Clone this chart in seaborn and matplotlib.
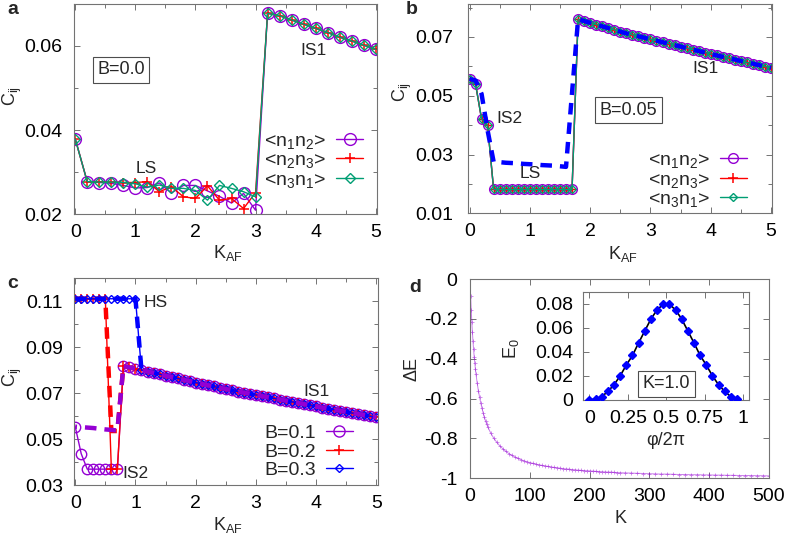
import numpy as np
import pandas as pd
import matplotlib
matplotlib.use('Agg')
import matplotlib.pyplot as plt
import seaborn as sns
from matplotlib.lines import Line2D
from matplotlib.ticker import MultipleLocator

sns.set_theme(style='white')
plt.rcParams['font.family'] = ['Liberation Sans', 'DejaVu Sans']
plt.rcParams['mathtext.fontset'] = 'custom'
plt.rcParams['mathtext.rm'] = 'Liberation Sans'
plt.rcParams['mathtext.it'] = 'Liberation Sans:italic'
plt.rcParams['mathtext.bf'] = 'Liberation Sans:bold'

PURPLE = '#9400d3'
RED = '#ff0000'
GREEN = '#009e73'
BLUE = '#0000ff'

# ---------------- panel a (B=0.0) ----------------
K_A = [0.0, 0.2, 0.4, 0.6, 0.8, 1.0, 1.2, 1.4, 1.6, 1.8, 2.0, 2.2, 2.4,
       2.6, 2.8, 3.0, 3.2, 3.4, 3.6, 3.8, 4.0, 4.2, 4.4, 4.6, 4.8, 5.0]
A_N1N2 = [0.0379, 0.0277, 0.0275, 0.0273, 0.0268, 0.0262, 0.0263, 0.0274, 0.0250,
          0.0268, 0.0268, 0.0255, 0.0242, 0.0226, 0.0249, 0.0209,
          0.0678, 0.0672, 0.0662, 0.0652, 0.0642, 0.0632, 0.0621, 0.0612, 0.0602, 0.0592]
A_N2N3 = [0.0379, 0.0277, 0.0277, 0.0276, 0.0275, 0.0275, 0.0277, 0.0253, 0.0265,
          0.0241, 0.0237, 0.0267, 0.0233, 0.0237, 0.0213, 0.0251,
          0.0678, 0.0672, 0.0662, 0.0652, 0.0642, 0.0632, 0.0621, 0.0612, 0.0602, 0.0592]
A_N3N1 = [0.0379, 0.0277, 0.0276, 0.0276, 0.0275, 0.0272, 0.0264, 0.0269, 0.0261,
          0.0261, 0.0256, 0.0233, 0.0268, 0.0261, 0.0253, 0.0241,
          0.0678, 0.0672, 0.0662, 0.0652, 0.0642, 0.0632, 0.0621, 0.0612, 0.0602, 0.0592]

# ---------------- panel b (B=0.05) ----------------
K_B = [round(0.1 * i, 1) for i in range(51)]
B_CORR = [0.0557, 0.0540, 0.0421, 0.0399,
          0.0181, 0.0181, 0.0181, 0.0181, 0.0181, 0.0181, 0.0181, 0.0181, 0.0181,
          0.0181, 0.0181, 0.0181, 0.0181, 0.0181,
          0.0760, 0.0754, 0.0748, 0.0742, 0.0736, 0.0730, 0.0724, 0.0718, 0.0712,
          0.0707, 0.0702, 0.0697, 0.0692, 0.0687, 0.0682, 0.0677, 0.0672, 0.0667,
          0.0662, 0.0657, 0.0652, 0.0647, 0.0642, 0.0637, 0.0632, 0.0628, 0.0623,
          0.0618, 0.0613, 0.0609, 0.0604, 0.0599, 0.0595]
B_DASH = [0.0557, 0.0552, 0.0506, 0.0382,
          0.0275, 0.0274, 0.0272, 0.0271, 0.0270, 0.0268, 0.0267, 0.0266, 0.0264,
          0.0263, 0.0262, 0.0260, 0.0258, 0.0510,
          0.0760, 0.0754, 0.0748, 0.0742, 0.0736, 0.0730, 0.0724, 0.0718, 0.0712,
          0.0707, 0.0702, 0.0697, 0.0692, 0.0687, 0.0682, 0.0677, 0.0672, 0.0667,
          0.0662, 0.0657, 0.0652, 0.0647, 0.0642, 0.0637, 0.0632, 0.0628, 0.0623,
          0.0618, 0.0613, 0.0609, 0.0604, 0.0599, 0.0595]

# ---------------- panel c (B=0.1,0.2,0.3) ----------------
K_C = [round(0.1 * i, 1) for i in range(51)]
IS1_TAIL = [0.0818, 0.0812, 0.0806, 0.0800, 0.0794, 0.0788, 0.0782, 0.0776, 0.0770,
            0.0764, 0.0758, 0.0752, 0.0746, 0.0740, 0.0734, 0.0729, 0.0723, 0.0718,
            0.0712, 0.0707, 0.0702, 0.0697, 0.0692, 0.0687, 0.0682, 0.0677, 0.0672,
            0.0667, 0.0662, 0.0657, 0.0652, 0.0647, 0.0642, 0.0637, 0.0632, 0.0628,
            0.0623, 0.0618, 0.0613, 0.0609, 0.0604, 0.0599, 0.0595]   # K = 0.8 ... 5.0
C_B01 = [0.0554, 0.0436, 0.0369, 0.0369, 0.0369, 0.0369, 0.0369, 0.0369] + IS1_TAIL
C_B01_DASH = [0.0554, 0.0552, 0.0550, 0.0548, 0.0545, 0.0542, 0.0540, 0.0537] + IS1_TAIL
C_B02 = [0.1111, 0.1111, 0.1111, 0.1111, 0.1111, 0.1111, 0.0369, 0.0369] + IS1_TAIL
C_B02_DASH = [0.1111, 0.1111, 0.1111, 0.1111, 0.1111, 0.1111, 0.0535, 0.0535] + IS1_TAIL
C_B03 = [0.1111, 0.1111, 0.1111, 0.1111, 0.1111, 0.1111, 0.1111, 0.1111,
         0.1111, 0.1111, 0.1111] + IS1_TAIL[3:]
C_B03_DASH = C_B03

# ---------------- panel d ----------------
K_D = [0, 1, 2, 3, 4, 5, 6, 7, 8, 9, 10, 12, 14, 16, 18, 20, 22, 24, 26, 28, 30,
       35, 40, 45, 50, 55, 60, 65, 70, 75, 80, 85, 90, 95, 100, 105, 110, 115, 120,
       125, 130, 135, 140, 145, 150, 155, 160, 165, 170, 175, 180, 185, 190, 195, 200,
       205, 210, 215, 220, 225, 230, 235, 240, 245, 250, 260, 270, 280, 290, 300, 310,
       320, 330, 340, 350, 360, 370, 380, 390, 400, 410, 420, 430, 440, 450, 460, 470,
       480, 490, 500]
DELTA_E = [0.0, -0.083, -0.154, -0.214, -0.267, -0.313, -0.353, -0.389, -0.421, -0.450,
           -0.476, -0.522, -0.560, -0.593, -0.622, -0.648, -0.672, -0.694, -0.712, -0.729,
           -0.744, -0.775, -0.800, -0.820, -0.838, -0.852, -0.865, -0.876, -0.885, -0.893,
           -0.900, -0.906, -0.912, -0.917, -0.921, -0.925, -0.929, -0.932, -0.935, -0.938,
           -0.940, -0.943, -0.945, -0.947, -0.949, -0.951, -0.953, -0.954, -0.956, -0.957,
           -0.959, -0.960, -0.961, -0.962, -0.963, -0.964, -0.965, -0.966, -0.967, -0.968,
           -0.969, -0.969, -0.970, -0.971, -0.972, -0.973, -0.974, -0.975, -0.976, -0.977,
           -0.978, -0.979, -0.979, -0.980, -0.981, -0.981, -0.982, -0.982, -0.983, -0.983,
           -0.984, -0.984, -0.985, -0.985, -0.986, -0.986, -0.986, -0.987, -0.987, -0.988]

PHI = [0.0, 0.04, 0.08, 0.12, 0.16, 0.20, 0.24, 0.28, 0.32, 0.36, 0.40, 0.44, 0.48,
       0.52, 0.56, 0.60, 0.64, 0.68, 0.72, 0.76, 0.80, 0.84, 0.88, 0.92, 0.96]
E0 = [0.0, 0.0008, 0.0028, 0.0071, 0.0127, 0.0201, 0.0291, 0.0370, 0.0475, 0.0574,
      0.0673, 0.0749, 0.0795, 0.0795, 0.0749, 0.0673, 0.0574, 0.0475, 0.0370, 0.0291,
      0.0201, 0.0127, 0.0071, 0.0028, 0.0008]

# ---------------- drawing ----------------
fig = plt.figure(figsize=(7.87, 5.38), dpi=100)
W, H = 787.0, 538.0
TICK = 14
LAB = 13
TXT = 12.5
LEG = 14


def add_axes_px(left, top, right, bottom):
    return fig.add_axes([left / W, 1 - bottom / H, (right - left) / W, (bottom - top) / H])


def style(ax, xmaj, xmin, ymaj, ymin, ypad=8.4, xpad=7):
    ax.xaxis.set_major_locator(MultipleLocator(xmaj))
    ax.yaxis.set_major_locator(MultipleLocator(ymaj))
    if xmin:
        ax.xaxis.set_minor_locator(MultipleLocator(xmin))
    if ymin:
        ax.yaxis.set_minor_locator(MultipleLocator(ymin))
    ax.tick_params(which='both', direction='in', top=True, right=True, bottom=True,
                   left=True, color='0.45', labelsize=TICK, labelcolor='black')
    ax.tick_params(which='major', length=4.5, width=0.7)
    ax.tick_params(which='minor', length=3, width=0.7)
    ax.tick_params(axis='y', which='major', pad=ypad)
    ax.tick_params(axis='x', which='major', pad=xpad)
    for s in ax.spines.values():
        s.set_color('0.45')
        s.set_linewidth(0.8)
    ax.grid(False)


def line(ax, x, y, color, marker=None, ms=7, lw=1.0, ls='-', mfc='none', mew=1.0,
         alpha=1.0, z=2):
    df = pd.DataFrame({'x': x, 'y': y})
    sns.lineplot(data=df, x='x', y='y', ax=ax, color=color, marker=marker,
                 markersize=ms, linewidth=lw, linestyle=ls, markerfacecolor=mfc,
                 markeredgecolor=color, markeredgewidth=mew, alpha=alpha,
                 estimator=None, sort=False, zorder=z)


def labels(ax, xl, yl, xc, yc):
    ax.set_xlabel(xl, fontsize=LAB)
    ax.set_ylabel(yl, fontsize=LAB)
    ax.xaxis.set_label_coords(*xc)
    ax.yaxis.set_label_coords(*yc)


KAF = r'K$_\mathrm{AF}$'
CIJ = r'C$_\mathrm{ij}$'
BOX = dict(boxstyle='square,pad=0.25', fc='white', ec='0.3', lw=0.8)

# ---- a ----
axa = add_axes_px(74, 4, 377, 214)
line(axa, K_A, A_N1N2, PURPLE, 'o', ms=8.5, lw=1.0)
line(axa, K_A, A_N2N3, RED, '+', ms=7.5, lw=1.0, mew=1.1)
line(axa, K_A, A_N3N1, GREEN, 'D', ms=5, lw=1.0)
axa.set_xlim(-0.02, 5.02)
axa.set_ylim(0.02, 0.07)
style(axa, 1, 0.5, 0.02, 0.01, ypad=8.4)
axa.set_yticks([0.02, 0.04, 0.06])
axa.set_yticklabels(['0.02', '0.04', '0.06'])
axa.set_xticks([0, 1, 2, 3, 4, 5])
axa.set_xticklabels(['0', '1', '2', '3', '4', '5'])
labels(axa, KAF, CIJ, (0.508, -0.138), (-0.165, 0.56))
axa.text(0.76, 0.0544, 'B=0.0', fontsize=13, ha='center', va='center', bbox=BOX)
axa.text(1.19, 0.0308, 'LS', fontsize=TXT, ha='center', va='center')
axa.text(3.97, 0.0590, 'IS1', fontsize=TXT, ha='center', va='center')
h_a = [Line2D([], [], color=PURPLE, marker='o', ms=8.5, mfc='none', lw=1.0),
       Line2D([], [], color=RED, marker='+', ms=7.5, mew=1.1, lw=1.0),
       Line2D([], [], color=GREEN, marker='D', ms=5, mfc='none', lw=1.0)]
axa.legend(h_a, [r'<n$_1$n$_2$>', r'<n$_2$n$_3$>', r'<n$_3$n$_1$>'], loc='center right',
           bbox_to_anchor=(0.955, 0.253), frameon=False, markerfirst=False,
           fontsize=LEG, handlelength=1.4, handletextpad=0.5, labelspacing=0.05,
           borderpad=0, borderaxespad=0)

# ---- b ----
axb = add_axes_px(468.3, 4, 772.3, 213.3)
line(axb, K_B, B_CORR, PURPLE, 'o', ms=7, lw=1.0)
line(axb, K_B, B_CORR, RED, '+', ms=5.5, lw=1.0)
line(axb, K_B, B_CORR, GREEN, 'D', ms=4.2, lw=1.0)
line(axb, K_B, B_DASH, BLUE, None, lw=3.2, ls=(0, (2.6, 1.8)), z=3)
axb.set_xlim(-0.02, 5.02)
axb.set_ylim(0.01, 0.0812)
style(axb, 1, 0.5, 0.02, 0.01, ypad=10.8)
axb.set_yticks([0.01, 0.03, 0.05, 0.07])
axb.set_yticklabels(['0.01', '0.03', '0.05', '0.07'])
axb.set_xticks([0, 1, 2, 3, 4, 5])
axb.set_xticklabels(['0', '1', '2', '3', '4', '5'])
labels(axb, KAF, CIJ, (0.509, -0.145), (-0.178, 0.58))
axb.text(2.64, 0.0450, 'B=0.05', fontsize=13, ha='center', va='center', bbox=BOX)
axb.text(0.66, 0.0421, 'IS2', fontsize=TXT, ha='center', va='center')
axb.text(1.01, 0.0235, 'LS', fontsize=TXT, ha='center', va='center')
axb.text(3.92, 0.0591, 'IS1', fontsize=TXT, ha='center', va='center')
h_b = [Line2D([], [], color=PURPLE, marker='o', ms=7, mfc='none', lw=1.0),
       Line2D([], [], color=RED, marker='+', ms=7, mew=1.1, lw=1.0),
       Line2D([], [], color=GREEN, marker='D', ms=4.5, mfc='none', lw=1.0)]
axb.legend(h_b, [r'<n$_1$n$_2$>', r'<n$_2$n$_3$>', r'<n$_3$n$_1$>'], loc='center right',
           bbox_to_anchor=(0.917, 0.158), frameon=False, markerfirst=False,
           fontsize=LEG, handlelength=1.4, handletextpad=0.5, labelspacing=0.05,
           borderpad=0, borderaxespad=0)

# ---- c ----
axc = add_axes_px(74, 278.3, 377.7, 485)
line(axc, K_C, C_B01, PURPLE, 'o', ms=7.5, lw=1.0)
line(axc, K_C, C_B02, RED, '+', ms=7, lw=1.0, mew=1.1)
line(axc, K_C, C_B03, BLUE, 'D', ms=4.5, lw=1.0)
line(axc, K_C, C_B02_DASH, RED, None, lw=3.2, ls=(0, (2.6, 1.8)), z=3)
line(axc, K_C, C_B03_DASH, BLUE, None, lw=3.2, ls=(0, (2.6, 1.8)), z=3)
line(axc, K_C, C_B01_DASH, PURPLE, None, lw=3.2, ls=(2.2, (2.6, 1.8)), z=3)
axc.set_xlim(-0.02, 5.02)
axc.set_ylim(0.03, 0.12)
style(axc, 1, 0.5, 0.02, 0.01, ypad=7.8)
axc.set_yticks([0.03, 0.05, 0.07, 0.09, 0.11])
axc.set_yticklabels(['0.03', '0.05', '0.07', '0.09', '0.11'])
axc.set_xticks([0, 1, 2, 3, 4, 5])
axc.set_xticklabels(['0', '1', '2', '3', '4', '5'])
labels(axc, KAF, CIJ, (0.507, -0.145), (-0.163, 0.523))
axc.text(1.33, 0.1096, 'HS', fontsize=TXT, ha='center', va='center')
axc.text(4.0, 0.0709, 'IS1', fontsize=TXT, ha='center', va='center')
axc.text(1.0, 0.0350, 'IS2', fontsize=TXT, ha='center', va='center')
h_c = [Line2D([], [], color=PURPLE, marker='o', ms=8, mfc='none', lw=1.0),
       Line2D([], [], color=RED, marker='+', ms=7.5, mew=1.1, lw=1.0),
       Line2D([], [], color=BLUE, marker='D', ms=4.5, mfc='none', lw=1.0)]
axc.legend(h_c, ['B=0.1', 'B=0.2', 'B=0.3'], loc='center right',
           bbox_to_anchor=(0.919, 0.161), frameon=False, markerfirst=False,
           fontsize=LEG, handlelength=1.4, handletextpad=0.5, labelspacing=0.05,
           borderpad=0, borderaxespad=0)

# ---- d ----
axd = add_axes_px(470, 279, 769, 478.3)
line(axd, K_D, DELTA_E, PURPLE, '+', ms=3.2, lw=0.7, mew=0.6, mfc=PURPLE, alpha=0.5)
axd.set_xlim(0, 500)
axd.set_ylim(-1, 0)
style(axd, 100, None, 0.2, None, ypad=9)
axd.set_xticks([0, 100, 200, 300, 400, 500])
axd.set_xticklabels(['0', '100', '200', '300', '400', '500'])
axd.set_yticks([-1, -0.8, -0.6, -0.4, -0.2, 0])
axd.set_yticklabels(['-1', '-0.8', '-0.6', '-0.4', '-0.2', '0'])
labels(axd, 'K', 'ΔE', (0.504, -0.159), (-0.167, 0.548))

axi = add_axes_px(583.3, 291.7, 749.3, 400)
line(axi, PHI, E0, 'black', None, lw=1.2, z=2)
line(axi, PHI, E0, BLUE, 'D', ms=3.8, lw=0, mfc=BLUE, z=3)
axi.set_xlim(-0.04, 1.04)
axi.set_ylim(0, 0.09)
style(axi, 0.25, None, 0.02, None, ypad=7.2)
axi.set_xticks([0, 0.25, 0.5, 0.75, 1])
axi.set_xticklabels(['0', '0.25', '0.5', '0.75', '1'])
axi.set_yticks([0, 0.02, 0.04, 0.06, 0.08])
axi.set_yticklabels(['0', '0.02', '0.04', '0.06', '0.08'])
labels(axi, 'φ/2π', r'E$_0$', (0.498, -0.295), (-0.375, 0.476))
axi.text(0.5, 0.0136, 'K=1.0', fontsize=13, ha='center', va='center', bbox=BOX)

# panel letters
for lab, (x, y) in zip('abcd', [(13, 9), (412, 9), (13, 283), (415, 287)]):
    fig.text(x / W, 1 - y / H, lab, fontsize=14, fontweight='bold', ha='center',
             va='center')

fig.savefig('out.png', dpi=100)
